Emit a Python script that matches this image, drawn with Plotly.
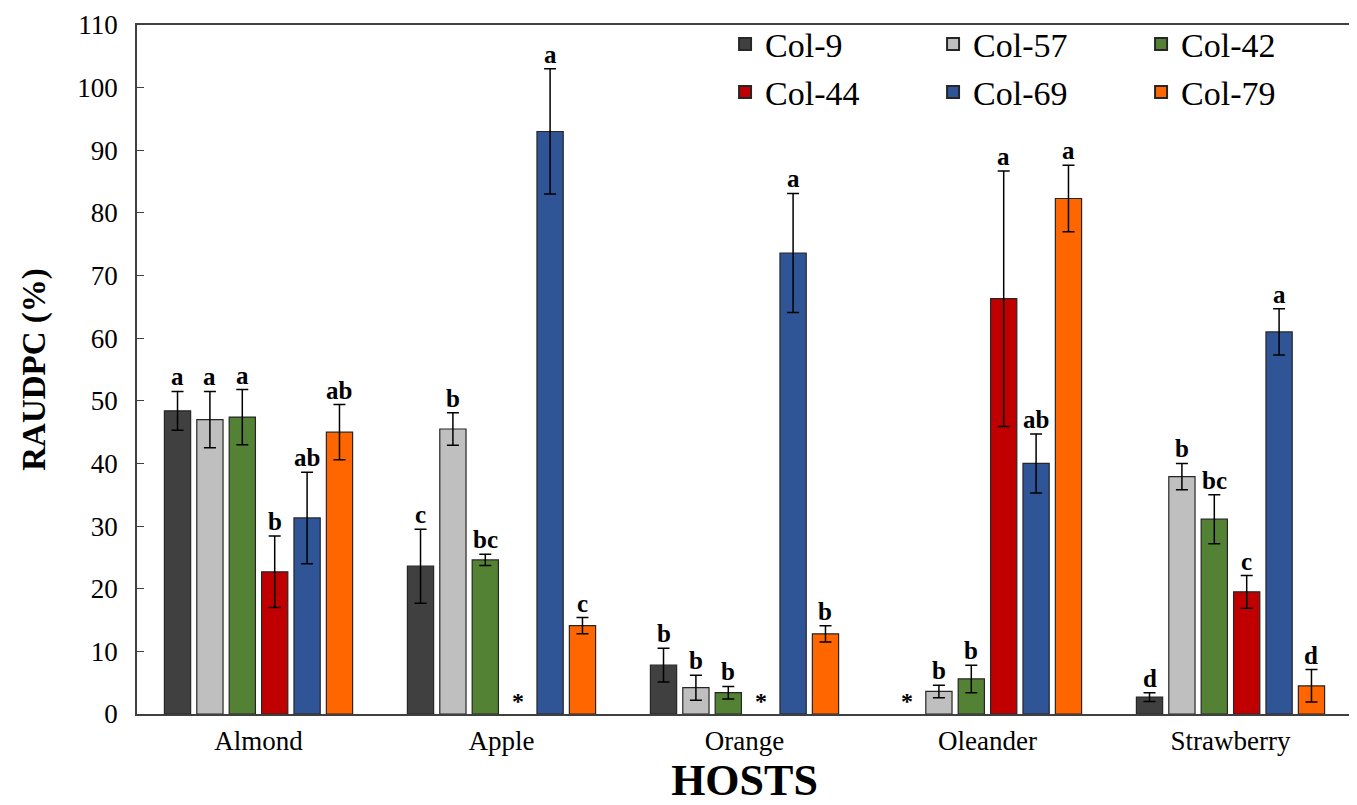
import plotly.graph_objects as go

hosts = ["Almond", "Apple", "Orange", "Oleander", "Strawberry"]
isolates = ["Col-9", "Col-57", "Col-42", "Col-44", "Col-69", "Col-79"]
colors = ["#404040", "#bfbfbf", "#548235", "#c00000", "#2f5597", "#ff6600"]

# RAUDPC (%) per isolate, in host order (None = not tested / no value, marked *)
col9 = [48.4, 23.6, 7.8, None, 2.7]
col57 = [47.0, 45.5, 4.2, 3.6, 37.9]
col42 = [47.4, 24.6, 3.4, 5.6, 31.1]
col44 = [22.7, None, None, 66.3, 19.5]
col69 = [31.3, 93.0, 73.6, 40.0, 61.0]
col79 = [45.0, 14.1, 12.8, 82.3, 4.5]

err9 = [3.1, 5.9, 2.7, 0, 0.7]
err57 = [4.5, 2.6, 2.0, 1.0, 2.1]
err42 = [4.4, 0.9, 1.0, 2.2, 3.9]
err44 = [5.7, 0, 0, 20.4, 2.6]
err69 = [7.3, 10.0, 9.5, 4.7, 3.7]
err79 = [4.4, 1.3, 1.3, 5.3, 2.6]

let9 = ["a", "c", "b", "*", "d"]
let57 = ["a", "b", "b", "b", "b"]
let42 = ["a", "bc", "b", "b", "bc"]
let44 = ["b", "*", "*", "a", "c"]
let69 = ["ab", "a", "a", "ab", "a"]
let79 = ["ab", "c", "b", "a", "d"]

values = [col9, col57, col42, col44, col69, col79]
errors = [err9, err57, err42, err44, err69, err79]
letters = [let9, let57, let42, let44, let69, let79]

pitch = 0.1333
bar_w = 0.108
serif = "Liberation Serif, Times New Roman, serif"

fig = go.Figure()
annotations = []
for j, name in enumerate(isolates):
    xs = [i + (j - 2.5) * pitch for i in range(len(hosts))]
    fig.add_trace(go.Bar(
        x=xs, y=values[j], width=bar_w, name=name,
        marker=dict(color=colors[j], line=dict(color="#262626", width=1.2)),
        error_y=dict(type="data", array=errors[j], visible=True,
                     color="black", thickness=1.5, width=6),
        legend="legend" if j < 3 else "legend2",
    ))
    for i in range(len(hosts)):
        v = values[j][i]
        lab = letters[j][i]
        if v is None:
            annotations.append(dict(x=xs[i], y=0, text="<b>*</b>", showarrow=False,
                                    yanchor="bottom", yshift=-2,
                                    font=dict(family=serif, size=24, color="black")))
        else:
            annotations.append(dict(x=xs[i], y=v + errors[j][i], text="<b>" + lab + "</b>",
                                    showarrow=False, yanchor="bottom", yshift=-1,
                                    font=dict(family=serif, size=25, color="black")))

legend_style = dict(orientation="h", xanchor="left", yanchor="middle",
                    entrywidth=163, font=dict(family=serif, size=34, color="black"),
                    bgcolor="rgba(0,0,0,0)", itemsizing="constant")

fig.update_layout(
    width=1357, height=805,
    margin=dict(l=129, r=13, t=17, b=99, autoexpand=False),
    paper_bgcolor="white", plot_bgcolor="white",
    barmode="overlay",
    font=dict(family=serif, color="black"),
    annotations=annotations,
    legend=dict(x=0.484, y=0.972, **legend_style),
    legend2=dict(x=0.484, y=0.902, **legend_style),
    xaxis=dict(range=[-0.5, 4.5], tickvals=list(range(len(hosts))), ticktext=hosts,
               showgrid=False, zeroline=False, showline=True, mirror=True,
               linecolor="#404040", linewidth=1.5, ticks="", automargin=False,
               ticklabelstandoff=2,
               tickfont=dict(family=serif, size=27, color="black"),
               title=dict(text="<b>HOSTS</b>", font=dict(family=serif, size=44, color="black"),
                          standoff=2)),
    yaxis=dict(range=[0, 110], tickvals=list(range(0, 111, 10)), showgrid=False,
               zeroline=False, showline=True, mirror=True, linecolor="#404040",
               linewidth=1.5, ticks="inside", ticklen=7, tickcolor="#404040",
               automargin=False, ticklabelstandoff=12,
               tickfont=dict(family=serif, size=27, color="black"),
               title=dict(text="<b>RAUDPC (%)</b>", font=dict(family=serif, size=33, color="black"),
                          standoff=22)),
)

fig.write_html("out.html")
